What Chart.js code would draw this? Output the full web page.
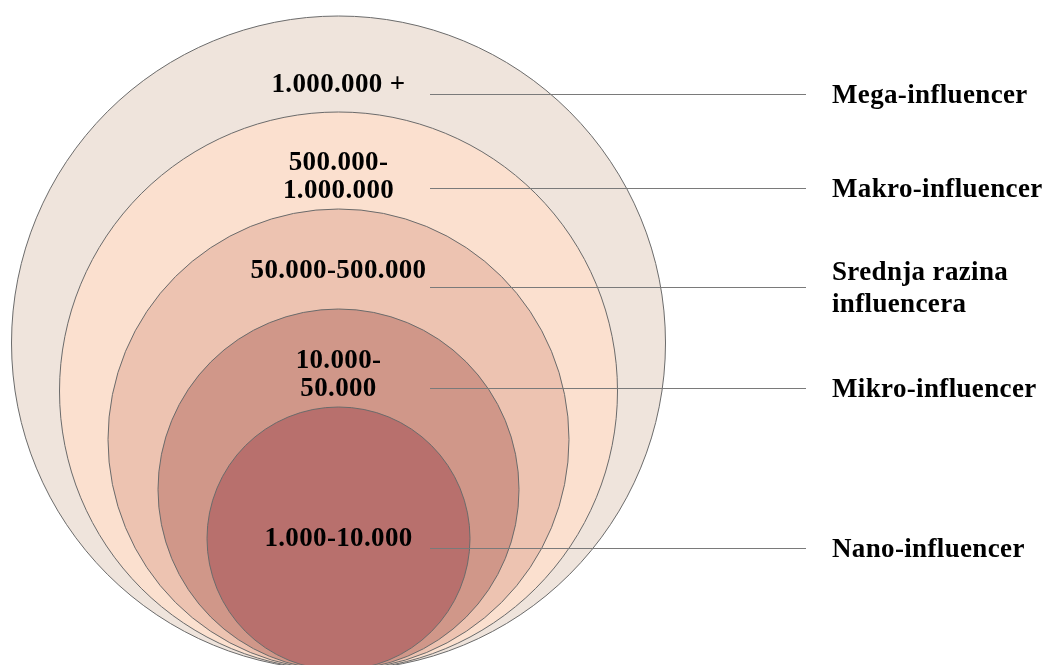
<!DOCTYPE html>
<html>
<head>
<meta charset="utf-8">
<style>
  html, body { margin: 0; padding: 0; background: #ffffff; }
  #wrap { width: 1046px; height: 665px; }
</style>
<script src="https://cdn.jsdelivr.net/npm/chart.js@4.4.1/dist/chart.umd.min.js"></script>
</head>
<body>
<div id="wrap"><canvas id="c" width="1046" height="665"></canvas></div>
<script>
// ---- data ----
const tiers = ["Mega-influencer", "Makro-influencer", ["Srednja razina", "influencera"], "Mikro-influencer", "Nano-influencer"];
const followerRanges = [["1.000.000 +"], ["500.000-", "1.000.000"], ["50.000-500.000"], ["10.000-", "50.000"], ["1.000-10.000"]];
const circleRadius = [327, 279, 230.5, 180.5, 131.5];
const fillColors = ["#EFE4DC", "#FBE0CF", "#EDC3B1", "#D09789", "#B8706D"];

// layout (not data)
const CX = 338.5, BOTTOM = 670;
const labelOffset = [69, 65, 62, 66, null];   // from circle top to label centre (null = centre of circle)
const lineDrop = [11, 13, 18, 15, 10];
const LINE_X0 = 430, LINE_X1 = 806, TEXT_X = 832;
const FONT = "bold 27px 'Liberation Serif', 'Times New Roman', serif";

const points = circleRadius.map(r => ({ x: CX, y: BOTTOM - r, r: r }));

const labelPlugin = {
  id: 'labels',
  afterDatasetsDraw(chart) {
    const ctx = chart.ctx;
    const xs = chart.scales.x, ys = chart.scales.y;
    ctx.save();
    ctx.font = FONT;
    try { ctx.letterSpacing = '0.35px'; } catch (e) {}
    ctx.textBaseline = 'middle';
    points.forEach((p, i) => {
      const px = xs.getPixelForValue(p.x);
      const top = ys.getPixelForValue(p.y - p.r);
      const cy = ys.getPixelForValue(p.y);
      const tc = labelOffset[i] == null ? cy + 1 : top + labelOffset[i];
      const lines = followerRanges[i];
      const lh = 28;
      ctx.fillStyle = '#000';
      ctx.textAlign = 'center';
      lines.forEach((t, k) => {
        ctx.fillText(t, px, tc + (k - (lines.length - 1) / 2) * lh);
      });
      const ly = Math.round(tc + lineDrop[i] - 2) + 0.5;
      ctx.strokeStyle = '#7a7a7a';
      ctx.lineWidth = 1;
      ctx.beginPath();
      ctx.moveTo(LINE_X0, ly);
      ctx.lineTo(LINE_X1, ly);
      ctx.stroke();
      const tl = Array.isArray(tiers[i]) ? tiers[i] : [tiers[i]];
      ctx.textAlign = 'left';
      tl.forEach((t, k) => {
        ctx.fillText(t, TEXT_X, ly + 2 + (k - (tl.length - 1) / 2) * 32);
      });
    });
    ctx.restore();
  }
};

new Chart(document.getElementById('c'), {
  type: 'bubble',
  data: {
    datasets: [{
      data: points,
      backgroundColor: fillColors,
      borderColor: '#6b6b6b',
      borderWidth: 1,
      hoverRadius: 0,
      clip: false
    }]
  },
  options: {
    responsive: false,
    animation: false,
    events: [],
    layout: { padding: 0, autoPadding: false },
    plugins: { legend: { display: false }, tooltip: { enabled: false } },
    scales: {
      x: { type: 'linear', min: 0, max: 1046, display: false },
      y: { type: 'linear', min: 0, max: 665, reverse: true, display: false }
    }
  },
  plugins: [labelPlugin]
});
</script>
</body>
</html>
